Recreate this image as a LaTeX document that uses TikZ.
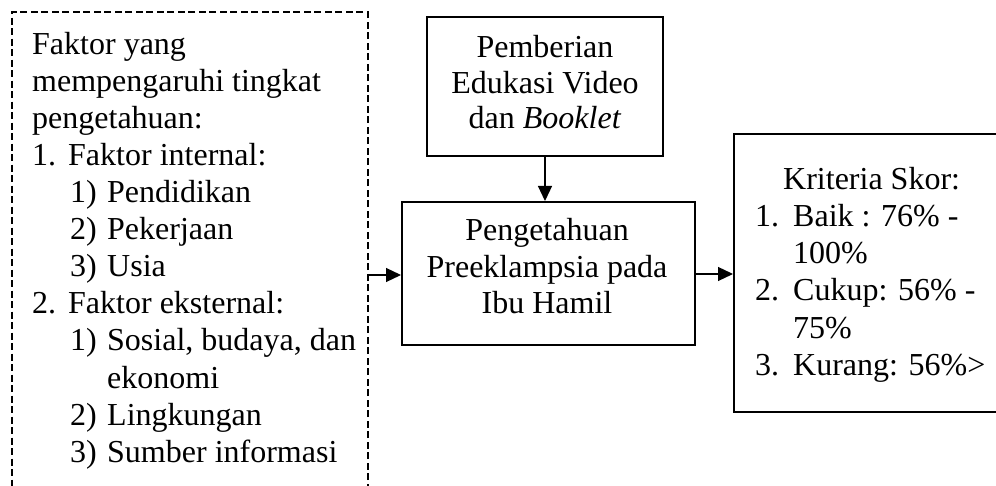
\documentclass[tikz,border=0pt]{standalone}
\usepackage{fontspec}
\setmainfont{Liberation Serif}
\usetikzlibrary{arrows.meta}
\begin{document}
\begin{tikzpicture}[x=1pt,y=-1pt,
  txt/.style={inner sep=0pt,anchor=base west,font=\fontsize{32}{37}\selectfont},
  ctxt/.style={inner sep=0pt,anchor=base,font=\fontsize{32}{37}\selectfont},
  solidbox/.style={draw,line width=2.4pt,inner sep=0pt,minimum width=#1},
  dashbox/.style={draw,line width=2.4pt,dash pattern=on 7pt off 3.5pt,inner sep=0pt},
  conn/.style={line width=1.2pt,-{Triangle[length=15pt,width=14pt]}}]
\useasboundingbox (0,0) rectangle (996,486);
\clip (0,0) rectangle (996,486);
% boxes
\node[dashbox,minimum width=356pt,minimum height=490pt,anchor=north west] (fac) at (10.5,11) {};
\node[solidbox=236pt,minimum height=139pt,anchor=north west] (edu) at (426,16) {};
\node[solidbox=293pt,minimum height=143pt,anchor=north west] (pk) at (401,201) {};
\node[solidbox=280pt,minimum height=278pt,anchor=north west] (crit) at (733,133) {};
% left text
\node[txt] (f1) at (32,55) {Faktor yang};
\node[txt] (f2) at (32,92) {mempengaruhi tingkat};
\node[txt] (f3) at (32,129) {pengetahuan:};
\node[txt] (f4n) at (32,166) {1.};
\node[txt] (f4) at (68,166) {Faktor internal:};
\node[txt] (f5n) at (70,203) {1)};
\node[txt] (f5) at (107,203) {Pendidikan};
\node[txt] (f6n) at (70,240) {2)};
\node[txt] (f6) at (107,240) {Pekerjaan};
\node[txt] (f7n) at (70,277) {3)};
\node[txt] (f7) at (107,277) {Usia};
\node[txt] (f8n) at (32,314) {2.};
\node[txt] (f8) at (68,314) {Faktor eksternal:};
\node[txt] (f9n) at (70,351) {1)};
\node[txt] (f9) at (107,351) {Sosial, budaya, dan};
\node[txt] (f10) at (107,388) {ekonomi};
\node[txt] (f11n) at (70,425) {2)};
\node[txt] (f11) at (107,425) {Lingkungan};
\node[txt] (f12n) at (70,462) {3)};
\node[txt] (f12) at (107,462) {Sumber informasi};
% top box text
\node[ctxt] (e1) at (545,58) {Pemberian};
\node[ctxt] (e2) at (545,93.5) {Edukasi Video};
\node[ctxt] (e3) at (545,129) {dan \textit{Booklet}};
% middle box text
\node[ctxt] (p1) at (547,241) {Pengetahuan};
\node[ctxt] (p2) at (547,277.5) {Preeklampsia pada};
\node[ctxt] (p3) at (547,314) {Ibu Hamil};
% right box text
\node[txt] (k0) at (783,190) {Kriteria Skor:};
\node[txt] (k1n) at (755,227) {1.};
\node[txt] (k1) at (793,227) {Baik : 76\% -};
\node[txt] (k1b) at (793,264) {100\%};
\node[txt] (k2n) at (755,301) {2.};
\node[txt] (k2) at (793,301) {Cukup: 56\% -};
\node[txt] (k2b) at (793,338) {75\%};
\node[txt] (k3n) at (755,375) {3.};
\node[txt] (k3) at (793,375) {Kurang: 56\%>};
% connectors
\coordinate (fa) at (fac.east |- 0,275);
\coordinate (pa) at (pk.west |- 0,275);
\draw[conn] (fa) -- (pa);
\draw[conn] (edu.south -| 545,0) -- (pk.north -| 545,0);
\coordinate (pb) at (pk.east |- 0,274);
\coordinate (cb) at (crit.west |- 0,274);
\draw[conn] (pb) -- (cb);
\end{tikzpicture}
\end{document}
